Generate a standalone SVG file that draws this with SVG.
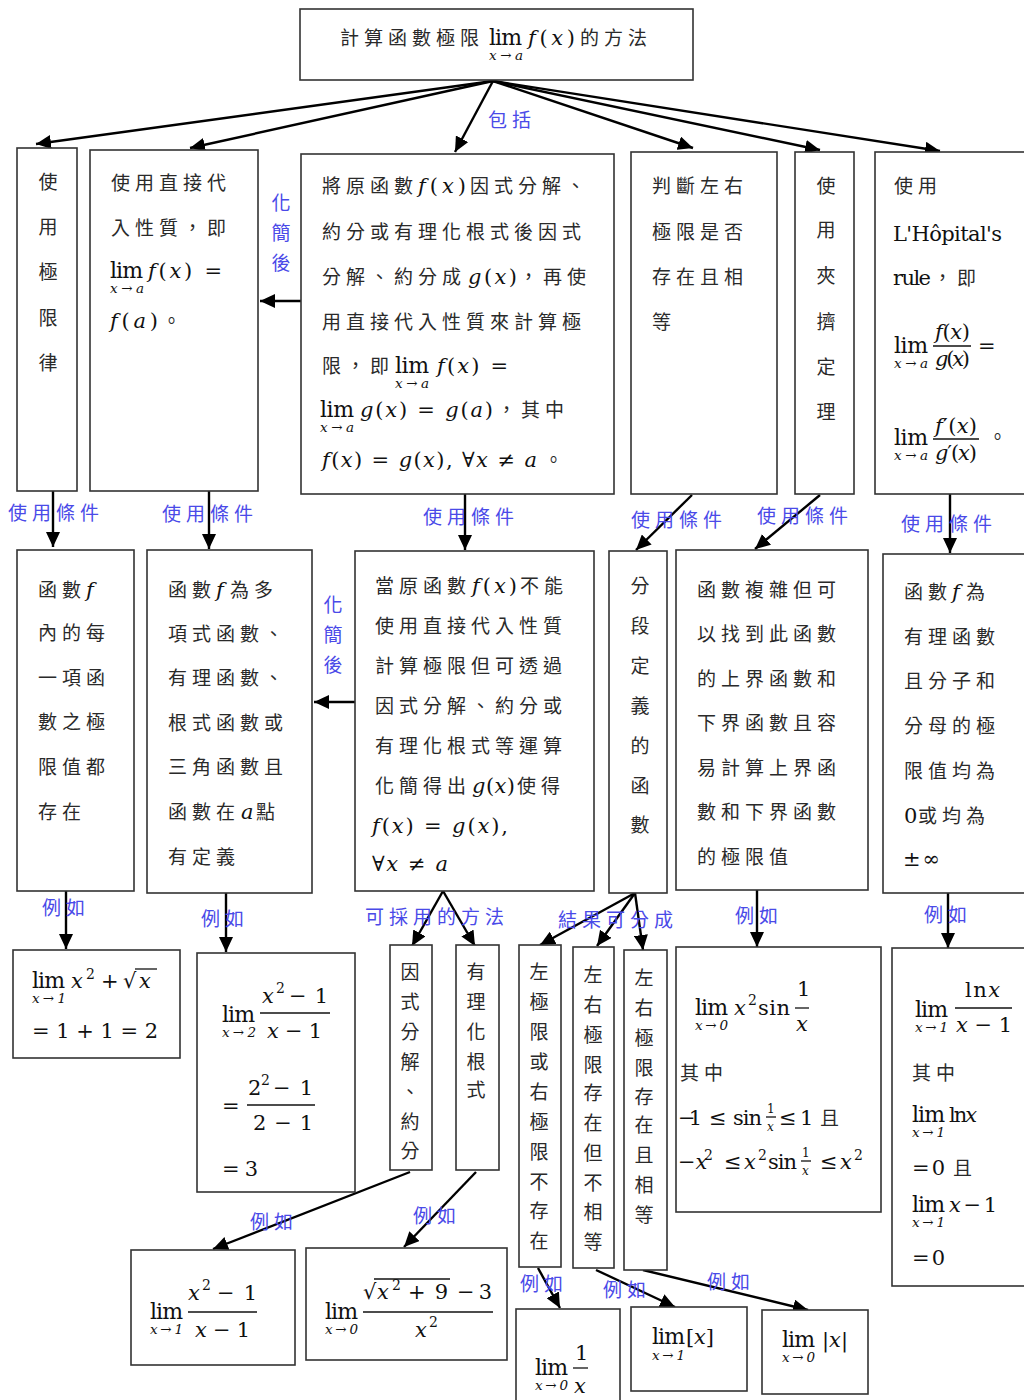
<svg xmlns="http://www.w3.org/2000/svg" width="1024" height="1400" viewBox="0 0 1024 1400">
<defs>
<marker id="ah" markerUnits="userSpaceOnUse" markerWidth="16" markerHeight="14" refX="15" refY="7" orient="auto">
<path d="M0,0 L15,7 L0,14 z" fill="#000"/>
</marker>
<style>
.box{fill:#fff;stroke:#333;stroke-width:1.6}
.cj{font-family:"Noto Sans CJK TC","Noto Sans CJK SC",sans-serif;font-size:19px;letter-spacing:5px;fill:#2a2a2a}
.vt{font-family:"Noto Sans CJK TC","Noto Sans CJK SC",sans-serif;font-size:19px;fill:#2a2a2a;text-anchor:middle}
.m{font-family:"DejaVu Serif",serif;font-size:21px;fill:#111}
.lim{font-family:"DejaVu Serif",serif;font-size:22px;fill:#111}
.i{font-style:italic}
.sub{font-family:"DejaVu Serif",serif;font-size:13.5px;font-style:italic;fill:#111}
.sup{font-family:"DejaVu Serif",serif;font-size:14px;fill:#111}
.sm{font-family:"DejaVu Serif",serif;font-size:12px;fill:#111}
.lbl{font-family:"Noto Sans CJK TC","Noto Sans CJK SC",sans-serif;font-size:19px;letter-spacing:5px;fill:#4a4ae8}
.lblv{font-family:"Noto Sans CJK TC","Noto Sans CJK SC",sans-serif;font-size:19px;fill:#4a4ae8;text-anchor:middle}
.bar{stroke:#111;stroke-width:1.3}
.c{fill:none;stroke:#000;stroke-width:2.4;marker-end:url(#ah)}
</style>
</defs>
<rect width="1024" height="1400" fill="#fff"/>

<g id="connectors">
<path class="c" d="M493,81 L36,144"/>
<path class="c" d="M493,81 L190,148"/>
<path class="c" d="M493,81 L455,152"/>
<path class="c" d="M493,81 L693,148"/>
<path class="c" d="M493,81 L820,150"/>
<path class="c" d="M493,81 L940,151"/>
<path class="c" d="M301,301 L260,301"/>
<path class="c" d="M53,491 L53,547"/>
<path class="c" d="M209,491 L209,549"/>
<path class="c" d="M465,494 L465,550"/>
<path class="c" d="M692,495 L636,550"/>
<path class="c" d="M820,495 L755,549"/>
<path class="c" d="M950,494 L950,553"/>
<path class="c" d="M355,702 L314,702"/>
<path class="c" d="M66,891 L66,949"/>
<path class="c" d="M226,893 L226,952"/>
<path class="c" d="M443,891 L412,946"/>
<path class="c" d="M443,891 L475,946"/>
<path class="c" d="M635,893 L540,945"/>
<path class="c" d="M635,893 L597,946"/>
<path class="c" d="M635,893 L643,950"/>
<path class="c" d="M757,890 L757,947"/>
<path class="c" d="M948,893 L948,948"/>
<path class="c" d="M410,1172 L213,1249"/>
<path class="c" d="M476,1172 L404,1247"/>
<path class="c" d="M538,1268 L560,1308"/>
<path class="c" d="M596,1270 L675,1307"/>
<path class="c" d="M643,1270 L808,1310"/>
<text class="lbl" x="488" y="127">包括</text>
<text class="lblv" x="281" y="210">化</text><text class="lblv" x="281" y="240">簡</text><text class="lblv" x="281" y="270">後</text>
<text class="lbl" x="8" y="520">使用條件</text>
<text class="lbl" x="162" y="521">使用條件</text>
<text class="lbl" x="423" y="524">使用條件</text>
<text class="lbl" x="631" y="527">使用條件</text>
<text class="lbl" x="757" y="523">使用條件</text>
<text class="lbl" x="901" y="531">使用條件</text>
<text class="lblv" x="333" y="612">化</text><text class="lblv" x="333" y="642">簡</text><text class="lblv" x="333" y="672">後</text>
<text class="lbl" x="42" y="915">例如</text>
<text class="lbl" x="201" y="926">例如</text>
<text class="lbl" x="365" y="924">可採用的方法</text>
<text class="lbl" x="558" y="927">結果可分成</text>
<text class="lbl" x="735" y="923">例如</text>
<text class="lbl" x="924" y="922">例如</text>
<text class="lbl" x="250" y="1229">例如</text>
<text class="lbl" x="413" y="1223">例如</text>
<text class="lbl" x="520" y="1291">例如</text>
<text class="lbl" x="603" y="1297">例如</text>
<text class="lbl" x="707" y="1289">例如</text>
</g>

<g id="title">
<rect class="box" x="300" y="9" width="393" height="71"/>
<text class="cj" x="340" y="45">計算函數極限</text>
<text class="lim" x="489" y="45" textLength="33">lim</text><text class="sub" x="489" y="60" textLength="34">x→a</text>
<text class="m" x="528" y="45" textLength="47"><tspan class="i">f</tspan>(<tspan class="i">x</tspan>)</text>
<text class="cj" x="580" y="45">的方法</text>
</g>

<g id="n-limlaws">
<rect class="box" x="17" y="148" width="60" height="343"/>
<text class="vt" x="48" y="189">使</text><text class="vt" x="48" y="234">用</text><text class="vt" x="48" y="279">極</text><text class="vt" x="48" y="325">限</text><text class="vt" x="48" y="370">律</text>
</g>

<g id="n-direct">
<rect class="box" x="90" y="150" width="168" height="341"/>
<text class="cj" x="111" y="190">使用直接代</text>
<text class="cj" x="111" y="235">入性質，即</text>
<text class="lim" x="110" y="278" textLength="33">lim</text><text class="sub" x="110" y="293" textLength="34">x→a</text>
<text class="m" x="148" y="278" textLength="74"><tspan class="i">f</tspan>(<tspan class="i">x</tspan>) =</text>
<text class="m" x="110" y="328" textLength="48"><tspan class="i">f</tspan>(<tspan class="i">a</tspan>)</text><text class="cj" x="162" y="328">。</text>
</g>

<g id="n-factor">
<rect class="box" x="301" y="154" width="313" height="340"/>
<text class="cj" x="322" y="193">將原函數</text><text class="m" x="418" y="193" textLength="48"><tspan class="i">f</tspan>(<tspan class="i">x</tspan>)</text><text class="cj" x="470" y="193">因式分解、</text>
<text class="cj" x="322" y="239">約分或有理化根式後因式</text>
<text class="cj" x="322" y="284">分解、約分成</text><text class="m" x="468" y="284" textLength="49"><tspan class="i">g</tspan>(<tspan class="i">x</tspan>)</text><text class="cj" x="519" y="284">，再使</text>
<text class="cj" x="322" y="329">用直接代入性質來計算極</text>
<text class="cj" x="322" y="373">限，即</text><text class="lim" x="395" y="373" textLength="34">lim</text><text class="sub" x="395" y="388" textLength="34">x→a</text><text class="m" x="437" y="373" textLength="71"><tspan class="i">f</tspan>(<tspan class="i">x</tspan>) =</text>
<text class="lim" x="320" y="417" textLength="34">lim</text><text class="sub" x="320" y="432" textLength="34">x→a</text><text class="m" x="360" y="417" textLength="133"><tspan class="i">g</tspan>(<tspan class="i">x</tspan>) = <tspan class="i">g</tspan>(<tspan class="i">a</tspan>)</text><text class="cj" x="497" y="417">，其中</text>
<text class="m" x="322" y="467" textLength="215"><tspan class="i">f</tspan>(<tspan class="i">x</tspan>) = <tspan class="i">g</tspan>(<tspan class="i">x</tspan>), ∀<tspan class="i">x</tspan> ≠ <tspan class="i">a</tspan></text><text class="cj" x="544" y="467">。</text>
</g>

<g id="n-leftright">
<rect class="box" x="631" y="152" width="146" height="342"/>
<text class="cj" x="652" y="193">判斷左右</text>
<text class="cj" x="652" y="239">極限是否</text>
<text class="cj" x="652" y="284">存在且相</text>
<text class="cj" x="652" y="329">等</text>
</g>

<g id="n-squeeze">
<rect class="box" x="795" y="152" width="59" height="342"/>
<text class="vt" x="826" y="193">使</text><text class="vt" x="826" y="237">用</text><text class="vt" x="826" y="283">夾</text><text class="vt" x="826" y="329">擠</text><text class="vt" x="826" y="374">定</text><text class="vt" x="826" y="419">理</text>
</g>

<g id="n-lhopital">
<rect class="box" x="875" y="152" width="160" height="342"/>
<text class="cj" x="894" y="193">使用</text>
<text class="m" x="893" y="241" textLength="109" font-family="Liberation Serif" font-size="23">L'Hôpital's</text>
<text class="m" x="893" y="285" textLength="38" font-family="Liberation Serif" font-size="23">rule</text><text class="cj" x="933" y="285">，即</text>
<text class="lim" x="894" y="353" textLength="34">lim</text><text class="sub" x="894" y="368" textLength="34">x→a</text>
<text class="m" x="935" y="339" font-size="19" textLength="35"><tspan class="i">f</tspan>(<tspan class="i">x</tspan>)</text>
<line class="bar" x1="933" y1="346" x2="971" y2="346"/>
<text class="m" x="935" y="366" font-size="19" textLength="35"><tspan class="i">g</tspan>(<tspan class="i">x</tspan>)</text>
<text class="m" x="978" y="353">=</text>
<text class="lim" x="894" y="445" textLength="34">lim</text><text class="sub" x="894" y="460" textLength="34">x→a</text>
<text class="m" x="935" y="433" font-size="19" textLength="42"><tspan class="i">f</tspan>′(<tspan class="i">x</tspan>)</text>
<line class="bar" x1="933" y1="439" x2="979" y2="439"/>
<text class="m" x="935" y="460" font-size="19" textLength="42"><tspan class="i">g</tspan>′(<tspan class="i">x</tspan>)</text>
<text class="cj" x="988" y="444">。</text>
</g>

<g id="n-eachlimit">
<rect class="box" x="17" y="550" width="117" height="341"/>
<text class="cj" x="38" y="597">函數</text><text class="m i" x="86" y="597">f</text>
<text class="cj" x="38" y="640">內的每</text>
<text class="cj" x="38" y="685">一項函</text>
<text class="cj" x="38" y="729">數之極</text>
<text class="cj" x="38" y="774">限值都</text>
<text class="cj" x="38" y="819">存在</text>
</g>

<g id="n-poly">
<rect class="box" x="147" y="550" width="165" height="343"/>
<text class="cj" x="168" y="597">函數</text><text class="m i" x="216" y="597">f</text><text class="cj" x="230" y="597">為多</text>
<text class="cj" x="168" y="641">項式函數、</text>
<text class="cj" x="168" y="685">有理函數、</text>
<text class="cj" x="168" y="730">根式函數或</text>
<text class="cj" x="168" y="774">三角函數且</text>
<text class="cj" x="168" y="819">函數在</text><text class="m i" x="241" y="819">a</text><text class="cj" x="256" y="819">點</text>
<text class="cj" x="168" y="864">有定義</text>
</g>

<g id="n-cannot">
<rect class="box" x="355" y="551" width="239" height="340"/>
<text class="cj" x="375" y="593">當原函數</text><text class="m" x="472" y="593" textLength="45"><tspan class="i">f</tspan>(<tspan class="i">x</tspan>)</text><text class="cj" x="520" y="593">不能</text>
<text class="cj" x="375" y="633">使用直接代入性質</text>
<text class="cj" x="375" y="673">計算極限但可透過</text>
<text class="cj" x="375" y="713">因式分解、約分或</text>
<text class="cj" x="375" y="753">有理化根式等運算</text>
<text class="cj" x="375" y="793">化簡得出</text><text class="m" x="472" y="793" textLength="43"><tspan class="i">g</tspan>(<tspan class="i">x</tspan>)</text><text class="cj" x="517" y="793">使得</text>
<text class="m" x="372" y="833" textLength="136"><tspan class="i">f</tspan>(<tspan class="i">x</tspan>) = <tspan class="i">g</tspan>(<tspan class="i">x</tspan>),</text>
<text class="m" x="372" y="871" textLength="76">∀<tspan class="i">x</tspan> ≠ <tspan class="i">a</tspan></text>
</g>

<g id="n-piecewise">
<rect class="box" x="609" y="551" width="58" height="342"/>
<text class="vt" x="640" y="593">分</text><text class="vt" x="640" y="633">段</text><text class="vt" x="640" y="673">定</text><text class="vt" x="640" y="713">義</text><text class="vt" x="640" y="753">的</text><text class="vt" x="640" y="793">函</text><text class="vt" x="640" y="832">數</text>
</g>

<g id="n-complex">
<rect class="box" x="676" y="550" width="192" height="340"/>
<text class="cj" x="697" y="597">函數複雜但可</text>
<text class="cj" x="697" y="641">以找到此函數</text>
<text class="cj" x="697" y="686">的上界函數和</text>
<text class="cj" x="697" y="730">下界函數且容</text>
<text class="cj" x="697" y="775">易計算上界函</text>
<text class="cj" x="697" y="819">數和下界函數</text>
<text class="cj" x="697" y="864">的極限值</text>
</g>

<g id="n-rational">
<rect class="box" x="883" y="554" width="150" height="339"/>
<text class="cj" x="904" y="599">函數</text><text class="m i" x="952" y="599">f</text><text class="cj" x="966" y="599">為</text>
<text class="cj" x="904" y="644">有理函數</text>
<text class="cj" x="904" y="688">且分子和</text>
<text class="cj" x="904" y="733">分母的極</text>
<text class="cj" x="904" y="778">限值均為</text>
<text class="m" x="904" y="823">0</text><text class="cj" x="918" y="823">或均為</text>
<text class="m" x="903" y="866" textLength="37">±∞</text>
</g>

<g id="n-ex1">
<rect class="box" x="13" y="950" width="167" height="108"/>
<text class="lim" x="32" y="988" textLength="33">lim</text><text class="sub" x="32" y="1003" textLength="34">x→1</text>
<text class="m i" x="71" y="988">x</text><text class="sup" x="86" y="979">2</text>
<text class="m" x="101" y="988">+</text>
<text class="m" x="123" y="988">√</text><text class="m i" x="139" y="988">x</text>
<line class="bar" x1="135" y1="969" x2="157" y2="969"/>
<text class="m" x="32" y="1038" textLength="126">= 1 + 1 = 2</text>
</g>

<g id="n-ex2">
<rect class="box" x="197" y="953" width="158" height="239"/>
<text class="lim" x="222" y="1022" textLength="33">lim</text><text class="sub" x="222" y="1037" textLength="34">x→2</text>
<text class="m i" x="262" y="1003">x</text><text class="sup" x="276" y="993">2</text><text class="m" x="289" y="1003" textLength="39">− 1</text>
<line class="bar" x1="260" y1="1013" x2="330" y2="1013"/>
<text class="m" x="267" y="1038" textLength="55"><tspan class="i">x</tspan> − 1</text>
<text class="m" x="222" y="1113">=</text>
<text class="m" x="248" y="1095">2</text><text class="sup" x="261" y="1085">2</text><text class="m" x="273" y="1095" textLength="40">− 1</text>
<line class="bar" x1="247" y1="1105" x2="315" y2="1105"/>
<text class="m" x="253" y="1130" textLength="60">2 − 1</text>
<text class="m" x="222" y="1176" textLength="36">= 3</text>
</g>

<g id="n-factorize">
<rect class="box" x="390" y="945" width="42" height="225"/>
<text class="vt" x="410" y="979">因</text><text class="vt" x="410" y="1009">式</text><text class="vt" x="410" y="1039">分</text><text class="vt" x="410" y="1069">解</text><text class="vt" x="410" y="1099">、</text><text class="vt" x="410" y="1129">約</text><text class="vt" x="410" y="1158">分</text>
</g>

<g id="n-rationalize">
<rect class="box" x="456" y="945" width="43" height="225"/>
<text class="vt" x="476" y="979">有</text><text class="vt" x="476" y="1009">理</text><text class="vt" x="476" y="1039">化</text><text class="vt" x="476" y="1069">根</text><text class="vt" x="476" y="1097">式</text>
</g>

<g id="n-notexist">
<rect class="box" x="519" y="945" width="42" height="322"/>
<text class="vt" x="539" y="979">左</text><text class="vt" x="539" y="1009">極</text><text class="vt" x="539" y="1039">限</text><text class="vt" x="539" y="1069">或</text><text class="vt" x="539" y="1099">右</text><text class="vt" x="539" y="1129">極</text><text class="vt" x="539" y="1159">限</text><text class="vt" x="539" y="1189">不</text><text class="vt" x="539" y="1218">存</text><text class="vt" x="539" y="1248">在</text>
</g>

<g id="n-notequal">
<rect class="box" x="573" y="947" width="41" height="321"/>
<text class="vt" x="593" y="982">左</text><text class="vt" x="593" y="1012">右</text><text class="vt" x="593" y="1042">極</text><text class="vt" x="593" y="1072">限</text><text class="vt" x="593" y="1100">存</text><text class="vt" x="593" y="1130">在</text><text class="vt" x="593" y="1160">但</text><text class="vt" x="593" y="1190">不</text><text class="vt" x="593" y="1219">相</text><text class="vt" x="593" y="1249">等</text>
</g>

<g id="n-equal">
<rect class="box" x="624" y="950" width="43" height="320"/>
<text class="vt" x="644" y="985">左</text><text class="vt" x="644" y="1015">右</text><text class="vt" x="644" y="1045">極</text><text class="vt" x="644" y="1075">限</text><text class="vt" x="644" y="1104">存</text><text class="vt" x="644" y="1132">在</text><text class="vt" x="644" y="1162">且</text><text class="vt" x="644" y="1192">相</text><text class="vt" x="644" y="1222">等</text>
</g>

<g id="n-ex-squeeze">
<rect class="box" x="676" y="947" width="205" height="265"/>
<text class="lim" x="695" y="1015" textLength="33">lim</text><text class="sub" x="695" y="1030" textLength="33">x→0</text>
<text class="m i" x="734" y="1015">x</text><text class="sup" x="748" y="1005">2</text><text class="m" x="758" y="1015" textLength="32">sin</text>
<text class="m" x="797" y="996">1</text>
<line class="bar" x1="795" y1="1008" x2="809" y2="1008"/>
<text class="m i" x="796" y="1031">x</text>
<text class="cj" x="680" y="1080">其中</text>
<text class="m" x="678" y="1125" textLength="24">−1</text>
<text class="m" x="709" y="1125">≤</text>
<text class="m" x="733" y="1125" textLength="29">sin</text>
<text class="sm" x="767" y="1113">1</text>
<line class="bar" x1="766" y1="1117" x2="776" y2="1117"/>
<text class="sm i" x="767" y="1131">x</text>
<text class="m" x="779" y="1125">≤</text>
<text class="m" x="800" y="1125">1</text>
<text class="cj" x="820" y="1125">且</text>
<text class="m" x="678" y="1169">−<tspan class="i">x</tspan></text><text class="sup" x="704" y="1160">2</text>
<text class="m" x="724" y="1169">≤</text>
<text class="m i" x="744" y="1169">x</text><text class="sup" x="758" y="1160">2</text>
<text class="m" x="768" y="1169" textLength="29">sin</text>
<text class="sm" x="802" y="1157">1</text>
<line class="bar" x1="801" y1="1161" x2="811" y2="1161"/>
<text class="sm i" x="802" y="1175">x</text>
<text class="m" x="820" y="1169">≤</text>
<text class="m i" x="840" y="1169">x</text><text class="sup" x="854" y="1160">2</text>
</g>

<g id="n-ex-lhopital">
<rect class="box" x="892" y="948" width="140" height="338"/>
<text class="lim" x="915" y="1017" textLength="33">lim</text><text class="sub" x="915" y="1032" textLength="33">x→1</text>
<text class="m" x="965" y="997" textLength="35">ln<tspan class="i">x</tspan></text>
<line class="bar" x1="955" y1="1008" x2="1012" y2="1008"/>
<text class="m" x="956" y="1032" textLength="56"><tspan class="i">x</tspan> − 1</text>
<text class="cj" x="912" y="1080">其中</text>
<text class="lim" x="912" y="1122" textLength="33">lim</text><text class="m" x="949" y="1122" textLength="28">ln<tspan class="i">x</tspan></text><text class="sub" x="912" y="1137" textLength="33">x→1</text>
<text class="m" x="912" y="1175" textLength="33">= 0</text><text class="cj" x="953" y="1175">且</text>
<text class="lim" x="912" y="1212" textLength="33">lim</text><text class="m" x="949" y="1212" textLength="48"><tspan class="i">x</tspan> − 1</text><text class="sub" x="912" y="1227" textLength="33">x→1</text>
<text class="m" x="912" y="1265" textLength="33">= 0</text>
</g>

<g id="n-ex-factor">
<rect class="box" x="131" y="1250" width="164" height="115"/>
<text class="lim" x="150" y="1319" textLength="33">lim</text><text class="sub" x="150" y="1334" textLength="33">x→1</text>
<text class="m i" x="188" y="1300">x</text><text class="sup" x="202" y="1290">2</text><text class="m" x="217" y="1300" textLength="40">− 1</text>
<line class="bar" x1="188" y1="1312" x2="257" y2="1312"/>
<text class="m" x="195" y="1337" textLength="55"><tspan class="i">x</tspan> − 1</text>
</g>

<g id="n-ex-rationalize">
<rect class="box" x="306" y="1248" width="201" height="112"/>
<text class="lim" x="325" y="1319" textLength="33">lim</text><text class="sub" x="325" y="1334" textLength="33">x→0</text>
<text class="m" x="363" y="1299">√</text><text class="m i" x="377" y="1299">x</text><text class="sup" x="392" y="1290">2</text>
<text class="m" x="408" y="1299" textLength="40">+ 9</text>
<text class="m" x="457" y="1299" textLength="35">− 3</text>
<line class="bar" x1="374" y1="1279" x2="450" y2="1279"/>
<line class="bar" x1="363" y1="1312" x2="493" y2="1312"/>
<text class="m i" x="415" y="1337">x</text><text class="sup" x="429" y="1327">2</text>
</g>

<g id="n-ex-inv">
<rect class="box" x="516" y="1309" width="104" height="100"/>
<text class="lim" x="535" y="1375" textLength="33">lim</text><text class="sub" x="535" y="1390" textLength="33">x→0</text>
<text class="m" x="575" y="1360">1</text>
<line class="bar" x1="573" y1="1368" x2="588" y2="1368"/>
<text class="m i" x="574" y="1393">x</text>
</g>

<g id="n-ex-floor">
<rect class="box" x="631" y="1307" width="116" height="84"/>
<text class="lim" x="652" y="1344" textLength="33">lim</text><text class="m" x="686" y="1344" textLength="28">[<tspan class="i">x</tspan>]</text><text class="sub" x="652" y="1360" textLength="33">x→1</text>
</g>

<g id="n-ex-abs">
<rect class="box" x="762" y="1310" width="106" height="84"/>
<text class="lim" x="782" y="1347" textLength="33">lim</text><text class="m" x="822" y="1347" textLength="26">|<tspan class="i">x</tspan>|</text><text class="sub" x="782" y="1362" textLength="33">x→0</text>
</g>
</svg>
